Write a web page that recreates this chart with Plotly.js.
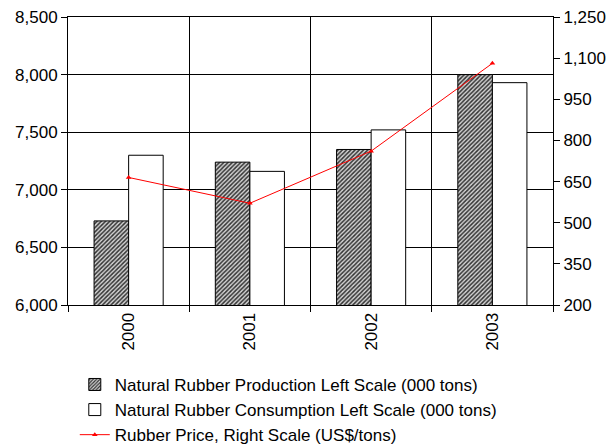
<!DOCTYPE html>
<html>
<head>
<meta charset="utf-8">
<script src="https://cdn.plot.ly/plotly-3.0.1.min.js"></script>
<style>html,body{margin:0;padding:0;background:#fff;}#chart{width:611px;height:445px;}</style>
</head>
<body>
<div id="chart"></div>
<script>
const years = ["2000", "2001", "2002", "2003"];
const production = [6730, 7240, 7350, 8000];
const consumption = [7300, 7160, 7520, 7930];
const price = [665, 571, 761, 1081];
const leftTicks = [6000, 6500, 7000, 7500, 8000, 8500];
const rightTicks = [200, 350, 500, 650, 800, 950, 1100, 1250];

const font = {family: "Arial, 'Liberation Sans', sans-serif", size: 17, color: "#000"};
const tickFont = {family: "Arial, 'Liberation Sans', sans-serif", size: 17, color: "#000"};

const traces = [
  {
    type: "bar", x: years, y: production,
    name: "Natural Rubber Production Left Scale (000 tons)",
    marker: {color: "#ffffff", line: {color: "#000", width: 1},
      pattern: {shape: "/", fgcolor: "#333333", bgcolor: "#d4d4d4", size: 3, solidity: 0.5}}
  },
  {
    type: "bar", x: years, y: consumption,
    name: "Natural Rubber Consumption Left Scale (000 tons)",
    marker: {color: "#ffffff", line: {color: "#000", width: 1}}
  },
  {
    type: "scatter", mode: "lines+markers", x: years, y: price, yaxis: "y2",
    name: "Rubber Price, Right Scale (US$/tons)",
    line: {color: "#ff0000", width: 1},
    marker: {color: "#ff0000", symbol: "triangle-up", size: 5}
  }
];

const layout = {
  width: 611, height: 445,
  margin: {l: 68, r: 58, t: 17, b: 140, autoexpand: false},
  paper_bgcolor: "#fff", plot_bgcolor: "#fff",
  font: font,
  showlegend: true,
  barmode: "group", bargap: 0.43, bargroupgap: 0,
  xaxis: {
    type: "category", tickson: "boundaries",
    showgrid: true, gridcolor: "#000", gridwidth: 1,
    ticks: "outside", ticklen: 6, tickcolor: "#000",
    showline: true, linecolor: "#000", linewidth: 1, mirror: true,
    tickangle: -90, tickfont: tickFont, automargin: false
  },
  yaxis: {
    range: [6000, 8500], tickvals: leftTicks, tickformat: ",",
    showgrid: true, gridcolor: "#000", gridwidth: 1,
    ticks: "outside", ticklen: 6, tickcolor: "#000",
    showline: true, linecolor: "#000", linewidth: 1,
    zeroline: false, tickfont: tickFont, automargin: false
  },
  yaxis2: {
    overlaying: "y", side: "right",
    range: [200, 1250], tickvals: rightTicks, tickformat: ",",
    showgrid: false, ticks: "outside", ticklen: 6, tickcolor: "#000",
    showline: true, linecolor: "#000", linewidth: 1,
    zeroline: false, tickfont: tickFont, automargin: false
  },
  legend: {
    x: 0.014, xanchor: "left", y: -0.215, yanchor: "top",
    orientation: "v", traceorder: "normal",
    font: font, bgcolor: "rgba(0,0,0,0)", tracegroupgap: 0
  }
};

Plotly.newPlot("chart", traces, layout, {displayModeBar: false, staticPlot: true});
</script>
</body>
</html>
